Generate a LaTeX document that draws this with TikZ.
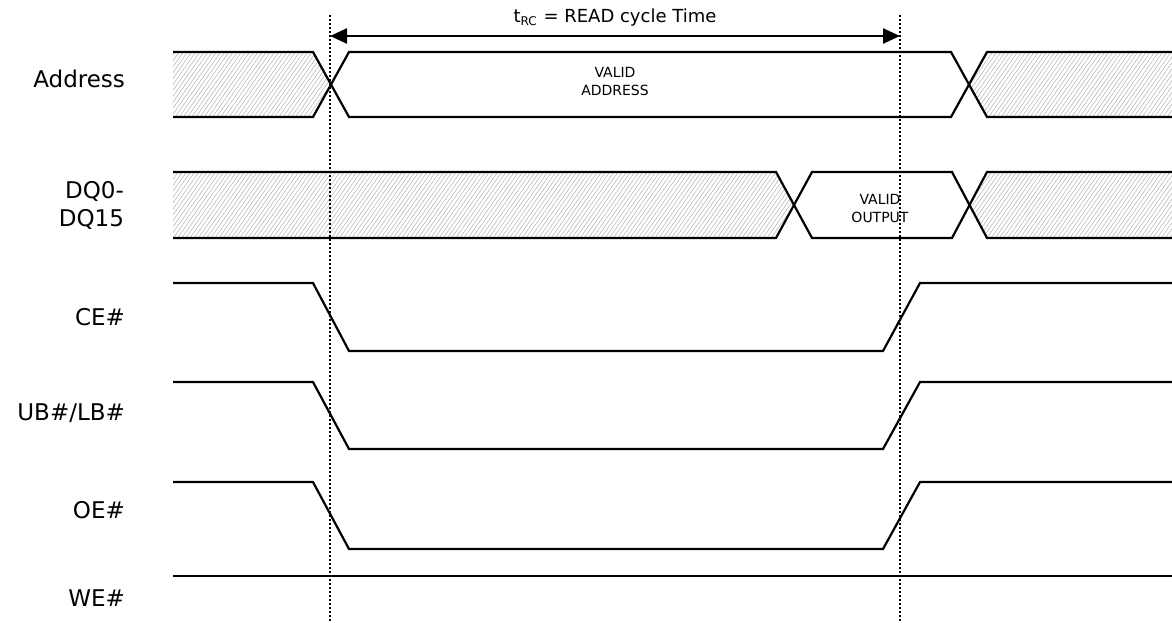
\documentclass[tikz,border=0pt]{standalone}
\usepackage{fontspec}
\setmainfont{DejaVu Sans}
\usetikzlibrary{arrows.meta,patterns.meta}

\begin{document}
\begin{tikzpicture}[x=0.5pt, y=-0.5pt, line width=1.1pt,
  sig/.style={anchor=east, font=\fontsize{11.5}{14}\selectfont, align=right, inner sep=0pt},
  busval/.style={font=\fontsize{7}{9}\selectfont, align=center, inner sep=0pt},
  hatch/.style={pattern={Lines[angle=55,distance=1.7pt,line width=0.3pt]}, pattern color=gray!55},
  timeline/.style={line width=0.6pt, dash pattern=on 1pt off 1pt}]
\useasboundingbox (0,0) rectangle (1172,622);

% signal names
\node [sig] (addr) at (126,79) {Address};
\node [sig] (dq) at (125,205) {DQ0-\\DQ15};
\node [sig] (ce) at (126,317) {CE\#};
\node [sig] (ub) at (126,413) {UB\#/LB\#};
\node [sig] (oe) at (126,510) {OE\#};
\node [sig] (we) at (126,598) {WE\#};

% don't care regions
\fill [hatch] (173,52) -- (313,52) -- (330,85) -- (313,117) -- (173,117) -- cycle;
\fill [hatch] (1172,52) -- (987,52) -- (969,85) -- (987,117) -- (1172,117) -- cycle;
\fill [hatch] (173,172) -- (776,172) -- (794,205) -- (776,238) -- (173,238) -- cycle;
\fill [hatch] (1172,172) -- (987,172) -- (969,205) -- (987,238) -- (1172,238) -- cycle;

% Address
\draw (173,52) -- (313,52) -- (349,117) -- (951,117) -- (987,52) -- (1172,52);
\draw (173,117) -- (313,117) -- (349,52) -- (951,52) -- (987,117) -- (1172,117);
\node [busval] (vaddr) at (615,81) {VALID\\ADDRESS};

% DQ0-DQ15
\draw (173,172) -- (776,172) -- (812,238) -- (952,238) -- (987,172) -- (1172,172);
\draw (173,238) -- (776,238) -- (812,172) -- (952,172) -- (987,238) -- (1172,238);
\node [busval] (vout) at (880,208) {VALID\\OUTPUT};

% CE#, UB#/LB#, OE#
\foreach \hi/\lo in {283/351, 382/449, 482/549}
  \draw (173,\hi) -- (313,\hi) -- (349,\lo) -- (883,\lo) -- (920,\hi) -- (1172,\hi);

% WE#
\draw (173,576) -- (1172,576);

% read cycle
\coordinate (t0top) at (330,15);
\coordinate (t0bot) at (330,622);
\coordinate (t1top) at (900,15);
\coordinate (t1bot) at (900,622);
\draw [timeline] (t0top) -- (t0bot);
\draw [timeline] (t1top) -- (t1bot);

\coordinate (rc0) at (330,36);
\coordinate (rc1) at (900,36);
\draw [{Triangle[length=8.5pt,width=7.5pt]}-{Triangle[length=8.5pt,width=7.5pt]}, line width=1.2pt] (rc0) -- (rc1);
\node [font=\fontsize{9}{11}\selectfont, inner sep=0pt] (trc) at (615,18) {t\textsubscript{RC} = READ cycle Time};
\end{tikzpicture}
\end{document}
